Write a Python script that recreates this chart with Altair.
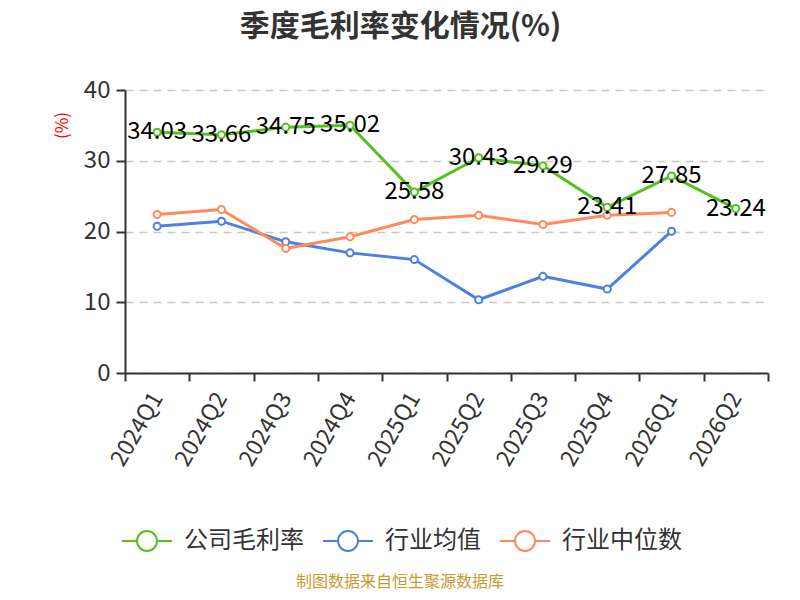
import altair as alt
import pandas as pd

quarters = ["2024Q1", "2024Q2", "2024Q3", "2024Q4", "2025Q1", "2025Q2",
            "2025Q3", "2025Q4", "2026Q1", "2026Q2"]
company_margin = [34.03, 33.66, 34.75, 35.02, 25.58, 30.43, 29.29, 23.41, 27.85, 23.24]
industry_avg = [20.75, 21.46, 18.54, 16.98, 16.03, 10.35, 13.66, 11.87, 20.04]
industry_median = [22.4, 23.1, 17.6, 19.25, 21.7, 22.3, 21.0, 22.3, 22.7]

series_names = ["公司毛利率", "行业均值", "行业中位数"]
series_colors = ["#55c11e", "#4e80e2", "#ff8b5a"]

rows = []
for name, vals in zip(series_names, [company_margin, industry_avg, industry_median]):
    for q, v in zip(quarters, vals):
        rows.append({"quarter": q, "value": v, "series": name})
df = pd.DataFrame(rows)
df_label = df[df["series"] == "公司毛利率"].copy()
df_label["label"] = df_label["value"].map(lambda v: f"{v:.2f}")

FONT = "Noto Sans CJK SC"

legend_path = ("M-1,0L-0.4,0M0.4,0L1,0"
               "M-0.4,0A0.4,0.4 0 1,1 0.4,0A0.4,0.4 0 1,1 -0.4,0Z")

x_enc = alt.X("quarter:N", sort=quarters,
              scale=alt.Scale(type="band", paddingInner=0, paddingOuter=0),
              bandPosition=0.5,
              axis=alt.Axis(title=None, labelAngle=-60, labelAlign="right",
                            labelBaseline="middle", labelFontSize=23,
                            labelColor="#333333", labelFont=FONT, labelPadding=13,
                            tickBand="extent", tickSize=8, tickWidth=2,
                            tickColor="#333333", domainColor="#333333",
                            domainWidth=2, grid=False))
y_enc = alt.Y("value:Q", scale=alt.Scale(domain=[0, 40], nice=False),
              axis=alt.Axis(values=[0, 10, 20, 30, 40], grid=True,
                            gridDash=[8, 6], gridColor="#c8c8c8", gridWidth=1.5,
                            domainColor="#333333", domainWidth=2,
                            tickColor="#333333", tickSize=9, tickWidth=2,
                            labelFontSize=24, labelColor="#333333", labelFont=FONT,
                            labelPadding=6,
                            title="(%)", titleColor="red", titleFontSize=17,
                            titleFontWeight="normal", titleFont=FONT,
                            titleX=-63, titleY=35, titleAlign="center",
                            titleBaseline="middle"))
color_enc = alt.Color("series:N", sort=series_names,
                      scale=alt.Scale(domain=series_names, range=series_colors),
                      legend=alt.Legend(orient="none", legendX=-4, legendY=425,
                                        direction="horizontal", title=None,
                                        symbolType=legend_path, symbolSize=2500,
                                        symbolStrokeWidth=2,
                                        symbolFillColor="white",
                                        labelFontSize=24, labelFont=FONT,
                                        labelColor="#333333", labelOffset=11,
                                        columnPadding=15))

base = alt.Chart(df)
lines = base.mark_line(strokeWidth=3).encode(x=x_enc, y=y_enc, color=color_enc)
points = base.mark_point(shape="circle", size=50, strokeWidth=2, filled=False,
                         fill="white", fillOpacity=1, opacity=1).encode(
    x=x_enc, y=y_enc, color=color_enc)
labels = alt.Chart(df_label).mark_text(fontSize=24, font=FONT, color="#000000",
                                       align="center", baseline="middle").encode(
    x=alt.X("quarter:N", sort=quarters, bandPosition=0.5),
    y="value:Q", text="label:N")
source = alt.Chart(pd.DataFrame({"t": ["制图数据来自恒生聚源数据库"]})).mark_text(
    fontSize=16, font=FONT, color="#c99a2e", align="center", baseline="middle"
).encode(x=alt.value(275), y=alt.value(492), text="t:N")

chart = alt.layer(lines, points, labels, source).properties(
    width=643, height=283,
    padding={"left": 117, "top": 82, "right": 24, "bottom": 219},
    autosize=alt.AutoSizeParams(type="none"),
    title=alt.TitleParams("季度毛利率变化情况(%)", anchor="middle", frame="group",
                          dx=-46, offset=36, fontSize=30, font=FONT,
                          fontWeight="bold", color="#333333"),
).configure_view(stroke=None)

chart.save("out.html", embed_options={"renderer": "svg", "actions": False})
